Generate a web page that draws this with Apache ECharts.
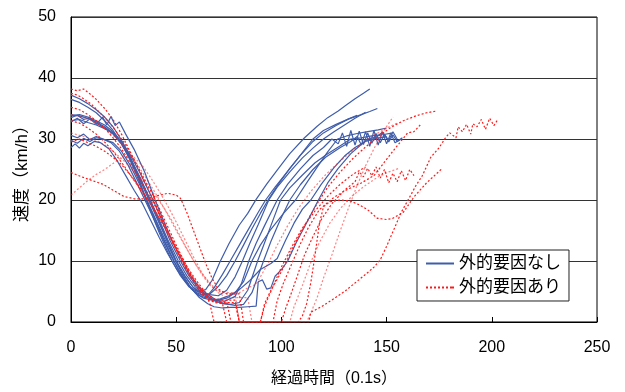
<!DOCTYPE html>
<html>
<head>
<meta charset="utf-8">
<script src="https://cdn.jsdelivr.net/npm/echarts@6/dist/echarts.min.js"></script>
<style>
  html, body { margin: 0; padding: 0; background: #fff; }
  #chart { width: 625px; height: 392px; }
</style>
</head>
<body>
<div id="chart"></div>
<script>
// axis ticks
const xTicks = [0, 50, 100, 150, 200, 250];
const yTicks = [0, 10, 20, 30, 40, 50];

// 外的要因なし (blue, solid) - [経過時間, 速度]
const nashi1 = [[0,37.2],[4,36.6],[8,35.8],[12,34.8],[16,33.6],[20,32],[24,29.8],[28,27.2],[32,23.8],[35,20.6],[38,18],[42,14.6],[45,12.2],[48,10],[52,7.6],[56,5.8],[60,5],[64,5.3],[67,6.8],[71,10],[75,12.8],[80,15.9],[84,17.8],[88,20.1],[93,22.6],[98,24.9],[104,27.6],[111,30.2],[117,32.1],[122,33.5],[127,34.6],[131,35.6],[135,36.6],[139,37.5],[142,38.2]];
const nashi2 = [[0,36.5],[4,36],[8,35.2],[12,34.3],[16,33],[20,31.4],[24,29.3],[28,26.6],[32,23.4],[36,20],[40,16.8],[44,13.6],[49,10],[53,7.4],[57,5.5],[61,4.3],[64,4],[68,5.6],[72,7.8],[76,10.2],[80,12.6],[85,15.6],[89,18],[92.5,20],[97,22.1],[102,24.3],[108,26.9],[115,30],[120,31.4],[126,32.4],[132,33.3],[138,34],[142,34.5],[145.6,35]];
const nashi3 = [[0,34],[4,33.8],[8,33.4],[12,32.8],[16,32],[20,30.9],[24,29.2],[28,26.8],[32,23.9],[37,20],[41,16.9],[45,13.8],[50,10],[54,7.6],[58,5.7],[62,4.8],[66,4.5],[70,4.3],[74,5.2],[78,7.4],[81.5,10],[85,12.9],[89,16],[94,20],[98,22.1],[104,24.6],[110,26.9],[115,28.5],[120,30],[125,31.2],[130,32.3],[135,33.4],[140,34.4]];
const nashi4 = [[0,33.5],[3,33.9],[6,33.2],[9,33.5],[12,32.6],[16,31.8],[20,30.8],[24,29.2],[28,26.9],[33,23.4],[38,19.8],[42,16.7],[46,13.5],[51,10],[55,7.6],[59,5.8],[63,4.6],[68,3.6],[73,3.4],[78,4.2],[81,6.3],[84.5,10],[88,12.9],[92,15.8],[98,20],[103,22.6],[109,25.1],[115,27.3],[120,28.6],[124,30],[127,29.2],[129,31],[131,28.8],[133,31.4],[135,29],[137,31.3],[139,29.1],[141,31],[143,29.3],[145,30.9],[147,29.4],[149,30.8],[151,29.5],[153,30.7],[155,29.6],[157.5,30.2]];
const nashi5 = [[0,33],[4,33.2],[8,32.7],[12,32.3],[16,31.7],[20,31],[24,29.6],[28,27.5],[33,24.3],[39,20],[43,16.8],[47,13.4],[52,10],[56,7.6],[60,5.8],[64,4.5],[68,3.5],[72,3],[76,2.9],[80,3.2],[84,5.2],[88.7,10],[92,13],[96,16.7],[99.6,20],[104,22],[110,24.1],[116,26.1],[122,27.6],[128,28.9],[133,30],[138,30.2],[143,30.5],[148,30.7],[153,31]];
const nashi6 = [[0,32.8],[3,33.4],[6,32.5],[9,33.3],[12,32.4],[15,33.6],[17,32.3],[19,33.7],[21,32.2],[23,32.8],[26,30.8],[30,28.3],[35,24.6],[40,20],[44,16.6],[48,13.3],[53,10],[57,7.5],[61,5.7],[65,4.5],[69,3.6],[73,3],[78,2.7],[82,2.9],[86,4.8],[91.5,10],[95,13.2],[99,16.4],[104,20],[109,22.5],[115,25],[121,27],[128,28.6],[133,29.6],[136,30.4],[138,29],[140,31.2],[142,28.8],[144,31.4],[146,29],[148,31.2],[150,29.2],[152,31],[154,29.4],[157,30]];
const nashi7 = [[0,30.6],[3,30.2],[6,30.8],[9,29.9],[12,30.4],[16,29.9],[20,29.4],[24,28],[28,25.8],[32,23],[36,20],[40,17],[44,14],[49,10.5],[53,7.8],[57,5.6],[61,4],[65,3],[68,2.5],[72,2.3],[76,2.4],[80,2.4],[84,2.5],[88,2.6],[89,6.6],[91,6.9],[93,5.4],[95,5.6],[97,7.5],[100,8.6],[103,10],[107,13],[111,15.6],[117.6,20],[122,22.8],[127,25.2],[133,27.6],[137,28.8],[141,30],[145,30.3],[148,31.1],[151,29.8],[153,31.2],[155,30]];
const nashi8 = [[0,29.8],[3,29.3],[6,30.1],[9,29.6],[12,30.2],[15,30],[19,29.4],[23,28],[27,25.8],[31,23],[35,20.1],[39,17.2],[43,14.2],[47,11.2],[51,8.6],[55,6.4],[59,4.8],[63,3.9],[67,3.6],[71,3.8],[75,4.3],[80,5.3],[85,6.8],[90,8.6],[95,9.6],[98,10.4],[102,13.4],[106,16.2],[110,18.5],[114,20],[119,22.6],[125,25.3],[130,27.2],[135,28.6],[140,29.6],[145,30.1],[150,30.4]];
const nashi9 = [[0,28.6],[2,29.2],[4,28.5],[6,29.3],[8,28.9],[11,29.6],[14,29.4],[18,28.4],[22,26.4],[26,24],[30,21.6],[34,19.4],[38,16.6],[42,13.8],[46,11.2],[50,8.8],[54,6.8],[58,5.2],[62,4.4],[66,4.6],[70,5.8],[74,7.6],[78,10],[82,12.6],[86,15.3],[90,17.8],[94,20.2],[99,22.8],[104,25.2],[109,27.3],[115,29.6],[120,31],[126,32.2],[132,33.3],[136,33.9]];
const nashi10 = [[0,33.8],[4,34],[8,33.6],[12,33],[16,32.3],[20,31.2],[24,29.5],[28,27],[33,23.6],[37.5,20],[42,16.4],[46,13.1],[50,10],[54,7.6],[58,5.7],[62,4.5],[66,3.8],[70,3.6],[74,3.9],[78,4.8],[82,6.6],[86,10],[90,12.6],[95,15.2],[101,17.8],[106.7,20],[112,22.8],[117,25.4],[122,27.9],[126.7,30],[131,30.5],[136,30.9],[141,31.2],[146,31.5],[150,31.8]];

// 外的要因あり (red, dotted)
const ari1 = [[0,38.2],[3,37.9],[6,38.2],[9,37.4],[12,36.5],[16,35],[20,33.2],[24,30.8],[28,28],[32,25.2],[36,22.2],[40,19.4],[44,16.5],[48,13.4],[52,10.4],[56,7.8],[60,5.6],[64,4],[68,3.2],[72,3],[74,0],[90,0],[92,3],[95,5.2],[99,7.6],[103,10.4],[107,13.3],[112,16.4],[117,19.4],[122,22.1],[128,24.6],[134,26.8],[140,28.7],[146,30.4],[152,31.9],[158,33],[164,33.8],[169,34.3],[174,34.6]];
const ari2 = [[0,37.5],[3,37.2],[6,36.6],[10,35.6],[14,34.2],[18,32.8],[22,31],[26,29],[30,26.6],[34,24],[38,21.4],[42,18.6],[46,15.6],[50,12.6],[54,9.8],[58,7.2],[62,5.1],[66,3.6],[70,3.2],[78,3.2],[80,0],[96,0],[98,3.5],[101,6.4],[105,9.6],[109,12.8],[113,15.6],[118,18.4],[124,20.2],[130,21.5],[138,22.8],[144,24],[148.5,26],[153,28],[160,31],[163,31.2],[166,32.3]];
const ari3 = [[0,35.2],[4,34.8],[8,34],[12,33],[16,31.8],[20,30.2],[24,28.4],[28,26.2],[32,23.8],[36,21.4],[40,19],[44,16.3],[48,13.4],[52,10.6],[56,8],[60,5.8],[64,4.4],[68,3.4],[74,3.4],[76,0],[100,0],[102,2.2],[105,5],[108,8],[111,11],[115,14],[119,16.8],[124,19.4],[130,21.6],[135,23],[137,24.6],[139,23.8],[141,25.2],[143,24],[145,25.4],[147,23.6],[149,25],[151,22.8],[153,24.4],[155,23],[157,24.8],[159,23.2],[161,25],[163,24]];
const ari4 = [[0,33],[4,32.6],[8,31.8],[12,30.8],[16,29.5],[20,28],[24,26.2],[28,24.2],[32,22.2],[36,20.2],[40,18.2],[44,16],[48,13.6],[52,11],[56,8.6],[60,6.6],[64,4.8],[68,3.8],[72,3.6],[78,3.6],[80,0],[113,0],[114,1.6],[119,2.5],[124,3.6],[130,5],[135,6.4],[140,7.8],[144,9],[147,10.2],[150,12.4],[152,14],[154,15.6],[157,18],[161,20.5],[164,22.4],[167,24],[171,27],[175,28.6],[178,30.2],[180,31],[183,30.2],[184,32],[186,31.2],[188,32.4],[190,30.8],[191,32.5],[193,32],[195,33.2],[197,31.6],[199,33.4],[201,32.2],[202.5,33]];
const ari5 = [[0,24.5],[5,23.8],[10,23.2],[15,22.6],[20,21.6],[25,20.6],[30,20.2],[35,20.2],[40,20.6],[46,21.1],[50,20.8],[52,20.3],[55,18],[58,15.2],[61,12.4],[64,9.6],[67,7.2],[70,5.4],[74,4.6],[80,4.6],[82,0],[108,0],[110,1],[112,3],[114,6.5],[116,11],[118,16],[120,18.9],[123,19.7],[128,20],[133,19.8],[137,19.2],[141,18.4],[145.6,17],[150,16.8],[153,17],[158,18],[163,20.5],[169,22.8],[176.5,25.2]];
const ari6 = [[0,20.8],[4,22],[8,23.2],[12,24.2],[16,25],[20,26],[25,27.2],[30,27],[34,25.6],[38,23.6],[42,21.4],[46,19],[50,16.4],[54,13.6],[58,10.8],[62,8.2],[66,6.2],[70,4.8],[74,4],[84,4],[86,0],[104,0],[106,2.5],[110,6],[114,9.8],[118,13],[123,16.2],[128,18.6],[134,20.8],[140,22.4],[146,23.8],[151,24.6],[156,25.2]];
const ari7 = [[0,31],[4,30.6],[8,30.2],[12,29.8],[16,29],[20,28],[24,26.8],[28,25.4],[32,24],[36,22.4],[40,20.8],[44,18.8],[48,16.6],[52,14],[56,11.4],[60,9],[63,7.4],[66,6],[70,5],[76,4.8],[80,4.8],[84,5.6],[88,6.2],[90,7.4],[94,9.8],[98,12.6],[103,15.8],[108,18.6],[114,21.4],[120,23.8],[126,25.8],[132,27.6],[138,29.2],[144,30.6],[150,31.8],[155,32.6]];
const ari8 = [[0,29.5],[4,30],[8,29.4],[12,28.8],[16,28],[20,27],[24,25.8],[28,24.2],[32,22.4],[36,20.4],[40,18.2],[44,15.8],[48,13.2],[52,10.6],[56,8.2],[60,6.2],[64,4.6],[66,3],[68,0],[90,0],[92,2.6],[96,5.8],[100,9],[105,12.4],[110,15.4],[116,18.2],[122,20.6],[128,22.6],[134,24.2],[140,25.4]];
const ari9 = [[0,34],[5,33.6],[10,33],[15,32],[20,30.6],[25,28.8],[30,26.6],[35,24],[40,21.2],[45,18.2],[50,15],[55,12],[59,9.6],[63,7.6],[67,6],[71,5],[75,4.6],[78,4.6],[80,0],[112,0],[114,1.5],[117,4],[120,7.2],[124,11],[128,15],[132,18.8],[136,22.4],[140,25.6],[144,28.4],[148,31],[153,33.6]];

const nashiRuns = [nashi1, nashi2, nashi3, nashi4, nashi5, nashi6, nashi7, nashi8, nashi9, nashi10];
const ariRuns = [ari1, ari2, ari3, ari4, ari5, ari6, ari7, ari8, ari9];
const faintAri = [ari6, ari7, ari9];

const BLUE = '#3f5dab';
const RED = '#ff1a1a';

const chart = echarts.init(document.getElementById('chart'), null, { renderer: 'canvas' });

const font = '"Liberation Sans", "Noto Sans CJK JP", sans-serif';
const series = [];
nashiRuns.forEach(run => {
  series.push({
    name: '外的要因なし',
    type: 'line',
    data: run,
    symbol: 'none',
    showSymbol: false,
    lineStyle: { color: BLUE, width: 1.2 },
    itemStyle: { color: BLUE },
    silent: true
  });
});
ariRuns.forEach(run => {
  series.push({
    name: '外的要因あり',
    type: 'line',
    data: run,
    symbol: 'none',
    showSymbol: false,
    lineStyle: { color: RED, width: 1.2, type: [2, 2], opacity: faintAri.includes(run) ? 0.55 : 1 },
    itemStyle: { color: RED },
    silent: true
  });
});

// legend samples: solid bar / row of dots (28 x 2)
const solidIcon = 'path://M0,0h28v2h-28z';
const dotIcon = 'path://M0,0h2v2h-2zM4,0h2v2h-2zM8,0h2v2h-2zM12,0h2v2h-2zM16,0h2v2h-2zM20,0h2v2h-2zM24,0h2v2h-2zM26,0h2v2h-2z';

chart.setOption({
  animation: false,
  backgroundColor: '#fff',
  textStyle: { fontFamily: font },
  grid: { left: 71, right: 28, top: 17, bottom: 70, show: true, borderColor: '#000', borderWidth: 1 },
  legend: {
    data: [
      { name: '外的要因なし', icon: solidIcon, itemStyle: { color: BLUE } },
      { name: '外的要因あり', icon: dotIcon, itemStyle: { color: RED } }
    ],
    orient: 'vertical',
    left: 417,
    top: 250,
    itemWidth: 28,
    itemHeight: 2,
    itemGap: 7,
    padding: [5, 8, 5, 9],
    backgroundColor: '#fff',
    borderColor: '#222',
    borderWidth: 1,
    borderRadius: 0,
    selectedMode: false,
    textStyle: { fontSize: 17, color: '#000', fontFamily: font }
  },
  xAxis: {
    type: 'value',
    min: xTicks[0],
    max: xTicks[xTicks.length - 1],
    interval: 50,
    name: '経過時間（0.1s）',
    nameLocation: 'middle',
    nameGap: 49,
    nameMoveOverlap: false,
    nameTextStyle: { fontSize: 16, color: '#000' },
    axisLine: { lineStyle: { color: '#000' } },
    axisTick: { inside: true, length: 5, lineStyle: { color: '#000' } },
    axisLabel: { fontSize: 16, color: '#000', margin: 18 },
    splitLine: { show: false }
  },
  yAxis: {
    type: 'value',
    min: yTicks[0],
    max: yTicks[yTicks.length - 1],
    interval: 10,
    name: '速度（km/h）',
    nameLocation: 'middle',
    nameGap: 40,
    nameRotate: 90,
    nameMoveOverlap: false,
    nameTextStyle: { fontSize: 17, color: '#000' },
    axisLine: { show: true, lineStyle: { color: '#000' } },
    axisTick: { show: false },
    axisLabel: { fontSize: 16, color: '#000', margin: 15 },
    splitLine: { show: true, lineStyle: { color: '#333', width: 1 } }
  },
  series: series
});
</script>
</body>
</html>
